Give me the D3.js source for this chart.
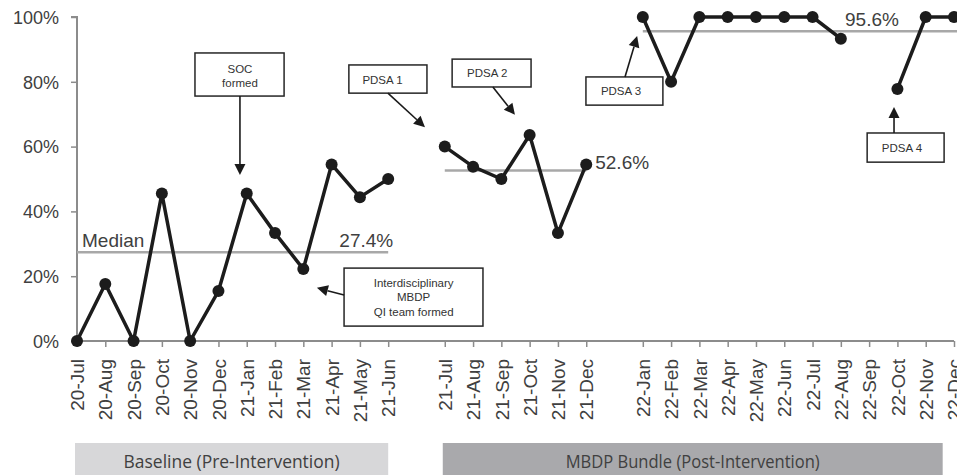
<!DOCTYPE html>
<html><head><meta charset="utf-8">
<script src="https://cdn.jsdelivr.net/npm/d3@7"></script>
<style>
html,body{margin:0;padding:0;background:#fff;}
svg{display:block;}
</style></head>
<body>
<svg id="chart" width="957" height="475"></svg>
<script>
// ---- data ----
const categories = ["20-Jul","20-Aug","20-Sep","20-Oct","20-Nov","20-Dec","21-Jan","21-Feb","21-Mar","21-Apr","21-May","21-Jun","",
  "21-Jul","21-Aug","21-Sep","21-Oct","21-Nov","21-Dec","",
  "22-Jan","22-Feb","22-Mar","22-Apr","22-May","22-Jun","22-Jul","22-Aug","22-Sep","22-Oct","22-Nov","22-Dec"];
const values = [0,17.6,0,45.5,0,15.4,45.5,33.3,22.2,54.5,44.4,50,null,
  60,53.8,50,63.6,33.3,54.5,null,
  100,80,100,100,100,100,100,93.3,null,77.8,100,100];
const yTicks = [0,20,40,60,80,100];
const medianValues = [27.4,52.6,95.6];
const medianLabels = ["27.4%","52.6%","95.6%"];
const medianFrom = ["20-Jul","21-Jul","22-Jan"];
const medianTo = ["21-Jun","21-Dec","22-Dec"];
const phaseLabels = ["Baseline (Pre-Intervention)","MBDP Bundle (Post-Intervention)"];
const annotationTexts = [["SOC","formed"],["Interdisciplinary","MBDP","QI team formed"],["PDSA 1"],["PDSA 2"],["PDSA 3"],["PDSA 4"]];

// ---- scales ----
const svg = d3.select("#chart");
const x = d3.scaleLinear().domain([0, categories.length-1]).range([77, 954]);
const y = d3.scaleLinear().domain([0,100]).range([341, 17]);
const idx = c => categories.indexOf(c);
const axisColor = "#8c8c8c";
const textColor = "#404040";
const font = "Arial, 'Liberation Sans', sans-serif";

// ---- phase boxes ----
const phases = [{from:0,to:11,fill:"#d7d7d9"},{from:13,to:30.6,fill:"#a9a9ac"}];
phases.forEach((p,i)=>{
  const x0 = x(p.from)-2, x1 = x(p.to);
  svg.append("rect").attr("x",x0).attr("y",443).attr("width",x1-x0).attr("height",40).attr("fill",p.fill);
  const w = [216,254][i];
  svg.append("text").attr("x",(x0+x1)/2).attr("y",468).attr("text-anchor","middle")
    .attr("font-family","'Liberation Sans Narrow','Open Sans',sans-serif").attr("font-size",18)
    .attr("textLength",w).attr("lengthAdjust","spacingAndGlyphs")
    .attr("fill",textColor).text(phaseLabels[i]);
});

// ---- axes ----
const yAxis = d3.axisLeft(y).tickValues(yTicks).tickFormat(d=>d+"%").tickSize(6).tickPadding(12);
const gy = svg.append("g").attr("transform",`translate(${x(0)},0)`).call(yAxis);
gy.select(".domain").attr("stroke",axisColor).attr("stroke-width",2).attr("d",`M-6,${y(100)}H0V${y(0)}`);
gy.selectAll(".tick line").attr("stroke",axisColor).attr("stroke-width",1.5);
gy.selectAll(".tick text").attr("font-family",font).attr("font-size",18).attr("fill",textColor).attr("dy","0.35em");

const tickIdx = d3.range(categories.length).filter(i=>categories[i]!=="");
const xAxis = d3.axisBottom(x).tickValues(tickIdx).tickFormat(i=>categories[i]).tickSize(6).tickPadding(8);
const gx = svg.append("g").attr("transform",`translate(0,${y(0)})`).call(xAxis);
gx.select(".domain").attr("stroke",axisColor).attr("stroke-width",2).attr("d",`M${x(0)},0H${x(categories.length-1)}`);
gx.selectAll(".tick line").attr("stroke",axisColor).attr("stroke-width",1.5);
gx.selectAll(".tick text").attr("font-family",font).attr("font-size",19).attr("fill",textColor)
  .attr("text-anchor","end").attr("transform","rotate(-90)").attr("x",-18).attr("y",0).attr("dy","0.35em");

// ---- medians ----
medianValues.forEach((m,i)=>{
  const x0 = x(idx(medianFrom[i]));
  const x1 = i===2 ? 957 : x(idx(medianTo[i]));
  svg.append("line").attr("x1",x0).attr("x2",x1).attr("y1",y(m)).attr("y2",y(m))
    .attr("stroke","#a8a8a8").attr("stroke-width",2.5);
});
svg.append("text").attr("x",x(0)+5).attr("y",y(medianValues[0])-5).attr("font-family",font).attr("font-size",19)
  .attr("fill",textColor).text("Median");
svg.append("text").attr("x",x(idx(medianTo[0]))+5).attr("y",y(medianValues[0])-5).attr("text-anchor","end")
  .attr("font-family",font).attr("font-size",19).attr("fill",textColor).text(medianLabels[0]);
svg.append("text").attr("x",x(idx(medianTo[1]))+9).attr("y",y(medianValues[1])-2)
  .attr("font-family",font).attr("font-size",19).attr("fill",textColor).text(medianLabels[1]);
svg.append("text").attr("x",(x(27)+x(28))/2+17).attr("y",y(medianValues[2])-5).attr("text-anchor","middle")
  .attr("font-family",font).attr("font-size",19).attr("fill",textColor).text(medianLabels[2]);

// ---- series line + points ----
const pts = values.map((v,i)=>({i,v}));
const line = d3.line().defined(d=>d.v!==null).x(d=>x(d.i)).y(d=>y(d.v));
svg.append("path").datum(pts).attr("d",line).attr("fill","none").attr("stroke","#1c1c1c")
  .attr("stroke-width",3.5).attr("stroke-linejoin","round");
svg.selectAll("circle.pt").data(pts.filter(d=>d.v!==null)).enter().append("circle")
  .attr("class","pt").attr("cx",d=>x(d.i)).attr("cy",d=>y(d.v)).attr("r",6).attr("fill","#1c1c1c");

// ---- annotations (positions in data units: category index, percent) ----
const annotations = [
  {box:[4.17,7.32,88.9,75.6], arrow:[5.76,75.6,5.76,51.2], tx:5.76, base:[72.5,86.5]},
  {box:[9.44,14.35,22.5,4.6], arrow:[9.44,14.2,8.48,16.4], tx:11.9, base:[287,301,315.5]},
  {box:[9.61,12.37,85.2,76.5], arrow:[10.99,76.5,12.30,66.0], tx:10.8, base:[84]},
  {box:[13.26,16.05,87.0,78.4], arrow:[14.70,78.4,15.48,69.8], tx:14.5, base:[77]},
  {box:[17.99,20.71,81.5,72.8], arrow:[19.37,81.5,19.80,94.1], tx:19.23, base:[95]},
  {box:[27.93,30.65,64.2,55.2], arrow:[28.88,64.2,28.88,72.2], tx:29.16, base:[152]}
];
annotations.forEach((a,k)=>{
  const [bx0,bx1,byT,byB] = a.box;
  svg.append("rect").attr("x",x(bx0)).attr("y",y(byT)).attr("width",x(bx1)-x(bx0)).attr("height",y(byB)-y(byT))
    .attr("fill","#fff").attr("stroke","#262626").attr("stroke-width",1.5);
  const [ax0,ay0,ax1,ay1] = a.arrow;
  const X0=x(ax0),Y0=y(ay0),X1=x(ax1),Y1=y(ay1);
  const dx=X1-X0, dy=Y1-Y0, L=Math.hypot(dx,dy), ux=dx/L, uy=dy/L;
  const hl=11, hw=5.5;
  const bxp=X1-ux*hl, byp=Y1-uy*hl;
  svg.append("line").attr("x1",X0).attr("y1",Y0).attr("x2",bxp).attr("y2",byp)
    .attr("stroke","#1a1a1a").attr("stroke-width",1.6);
  svg.append("path").attr("d",`M${X1},${Y1}L${bxp-uy*hw},${byp+ux*hw}L${bxp+uy*hw},${byp-ux*hw}Z`).attr("fill","#1a1a1a");
  annotationTexts[k].forEach((t,j)=>{
    svg.append("text").attr("x",x(a.tx)).attr("y",a.base[j]).attr("text-anchor","middle")
      .attr("font-family",font).attr("font-size",11.5).attr("fill","#333").text(t);
  });
});
</script>
</body></html>
